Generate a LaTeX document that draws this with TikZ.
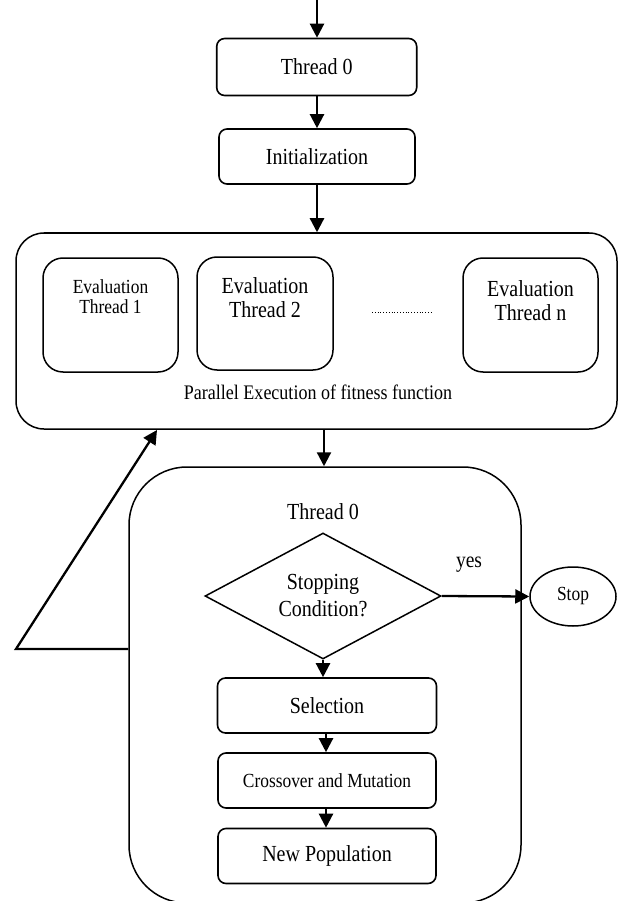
\documentclass[tikz,border=0pt]{standalone}
\usepackage{fontspec}
\setmainfont{Liberation Serif}[FakeStretch=0.87]
\usetikzlibrary{arrows.meta,shapes.geometric}
\begin{document}
\begin{tikzpicture}[x=1pt,y=-1pt,
  box/.style={draw,line width=1.6pt,rounded corners=8pt,inner sep=0pt},
  evalbox/.style={draw,line width=1.5pt,rounded corners=20pt,inner sep=0pt},
  arr/.style={line width=2.3pt,-{Triangle[length=14pt,width=14pt]}},
  lbl/.style={font=\fontsize{23}{24}\selectfont,align=center},
  slbl/.style={font=\fontsize{20}{20}\selectfont,align=center}]
\useasboundingbox (0,0) rectangle (621,901);
% top chain
\coordinate (top) at (317,0);
\node[box,minimum width=200pt,minimum height=57pt,lbl] (t0) at (316.7,67) {Thread 0};
\node[box,minimum width=196pt,minimum height=55pt,lbl] (init) at (317,156.5) {Initialization};
% parallel block
\node[draw,line width=1.5pt,rounded corners=28pt,minimum width=601pt,minimum height=196pt] (par) at (316.5,331) {};
\node[evalbox,minimum width=135pt,minimum height=114pt] (e1) at (110.5,315) {};
\node[font=\fontsize{20}{20}\selectfont,align=center] (e1t) at (110.5,297) {Evaluation\\Thread 1};
\node[evalbox,minimum width=136pt,minimum height=113pt] (e2) at (265,313.5) {};
\node[lbl] (e2t) at (265,298) {Evaluation\\Thread 2};
\node[evalbox,minimum width=135pt,minimum height=114pt] (en) at (530.5,315) {};
\node[lbl] (ent) at (530.5,300.5) {Evaluation\\Thread n};
\coordinate (dotsL) at (372,312);
\coordinate (dotsR) at (433,312);
\draw[line width=1pt,dash pattern=on 0.9pt off 1.9pt] (dotsL) -- (dotsR);
\node[font=\fontsize{20.7}{22}\selectfont] (ptxt) at (318,392) {Parallel Execution of fitness function};
% thread 0 big block
\node[draw,line width=1.5pt,rounded corners=58pt,minimum width=392pt,minimum height=436pt] (big) at (325,685) {};
\node[lbl] (t0b) at (323,512) {Thread 0};
\node[draw,line width=1.5pt,diamond,aspect=1.873,minimum width=236pt,minimum height=126pt,inner sep=0pt,lbl] (cond) at (323,596) {Stopping\\[3pt]Condition?};
\node[font=\fontsize{22.4}{22}\selectfont] (yes) at (469,565) {yes};
\node[draw,line width=1.5pt,ellipse,minimum width=86pt,minimum height=59pt,inner sep=0pt,font=\fontsize{20}{20}\selectfont] (stop) at (573,596.5) {Stop};
\node[box,minimum width=219pt,minimum height=55pt,lbl] (sel) at (327,705.5) {Selection};
\node[box,minimum width=218pt,minimum height=55pt,slbl] (cross) at (327,780.5) {Crossover and Mutation};
\node[box,minimum width=218pt,minimum height=55pt,lbl] (newp) at (327,856) {New Population};
% arrows
\draw[arr] (top) -- (t0.north -| top);
\draw[arr] (t0.south -| top) -- (init.north -| top);
\draw[arr] (init.south -| top) -- (par.north -| top);
\coordinate (mid) at (324,0);
\draw[arr] (par.south -| mid) -- (big.north -| mid);
\draw[arr] (cond.east) -- (stop.west);
\draw[arr] (cond.south) -- (sel.north -| cond.south);
\coordinate (mid2) at (326,0);
\draw[arr] (sel.south -| mid2) -- (cross.north -| mid2);
\draw[arr] (cross.south -| mid2) -- (newp.north -| mid2);
% feedback
\coordinate (fb) at (16,649);
\coordinate (fbend) at (157,430);
\draw[arr,line join=miter] (big.west |- fb) -- (fb) -- (fbend);
\end{tikzpicture}
\end{document}
